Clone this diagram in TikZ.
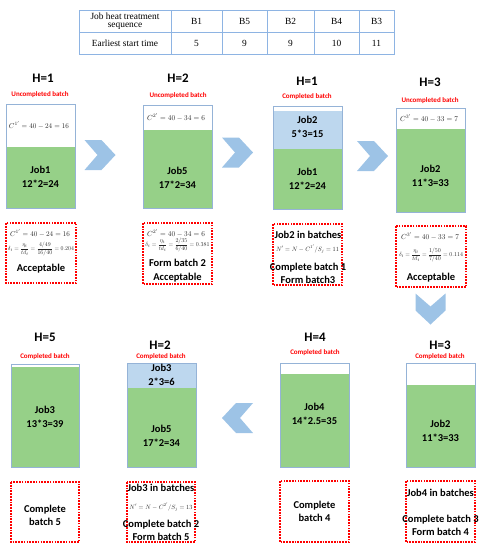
\documentclass[tikz,border=0pt]{standalone}
\usepackage{fontspec}
\usepackage{graphicx}
\setmainfont{Carlito}
\newfontfamily\tabfont{Liberation Serif}
\definecolor{jobgreen}{HTML}{96D088}
\definecolor{jobblue}{HTML}{BDD7EE}
\definecolor{boxline}{HTML}{95B3D7}
\definecolor{tabline}{HTML}{8EB4E3}
\definecolor{chevcol}{HTML}{9DC3E6}
\definecolor{fmcol}{HTML}{262626}
\newcommand\fmw[2]{\resizebox{#1pt}{!}{$\displaystyle #2$}}
\begin{document}
\begin{tikzpicture}[x=1pt,y=-1pt,
  bline/.style={draw=boxline,line width=0.9pt},
  tline/.style={draw=tabline,line width=0.8pt},
  redbox/.style={draw=red,line width=1.1pt,dash pattern=on 1.7pt off 1.1pt},
  hlab/.style={font=\fontsize{13}{15}\selectfont\bfseries},
  redlab/.style={font=\fontsize{7}{8}\selectfont\bfseries,text=red},
  jobtxt/.style={font=\fontsize{10.5}{14}\selectfont\bfseries,align=center,inner sep=0pt},
  notetxt/.style={font=\fontsize{10.5}{13}\selectfont\bfseries,align=center,inner sep=0pt},
  fm/.style={text=fmcol,inner sep=0pt},
  tabtxt/.style={font=\tabfont\fontsize{9.4}{10}\selectfont,align=center,inner sep=0pt},
  chevshape/.pic={\fill[chevcol] (-15.5,-15) -- (1.5,-15) -- (15.5,0) -- (1.5,15) -- (-15.5,15) -- (-2.5,0) -- cycle;}
]
\useasboundingbox (0,0) rectangle (489,550);

% ---------- table ----------
\draw[tline] (79,10) rectangle (394,54);
\draw[tline] (79,32) -- (394,32);
\foreach \x in {171,222,267,314,359} \draw[tline] (\x,10) -- (\x,54);
\node[tabtxt] (t0) at (125,21) {Job heat treatment\\[-1.5pt]sequence};
\node[tabtxt] (t1) at (196.5,21) {B1};
\node[tabtxt] (t2) at (244.5,21) {B5};
\node[tabtxt] (t3) at (290.5,21) {B2};
\node[tabtxt] (t4) at (336.5,21) {B4};
\node[tabtxt] (t5) at (376.5,21) {B3};
\node[tabtxt] (s0) at (125,43) {Earliest start time};
\node[tabtxt] (s1) at (196.5,43) {5};
\node[tabtxt] (s2) at (244.5,43) {9};
\node[tabtxt] (s3) at (290.5,43) {9};
\node[tabtxt] (s4) at (336.5,43) {10};
\node[tabtxt] (s5) at (376.5,43) {11};

% ---------- top row ----------
\node[hlab] (h1) at (43,78) {H=1};
\node[hlab] (h2) at (178,78) {H=2};
\node[hlab] (h3) at (307,81) {H=1};
\node[hlab] (h4) at (430,82) {H=3};
\node[redlab] (r1) at (40,95) {Uncompleted batch};
\node[redlab] (r2) at (178,96) {Uncompleted batch};
\node[redlab] (r3) at (307,97) {Completed batch};
\node[redlab] (r4) at (430,101) {Uncompleted batch};

% box 1
\fill[white] (6,104) rectangle (75,147);
\fill[jobgreen] (6,147) rectangle (75,208);
\draw[bline] (6,104) rectangle (75,208);
\node[fm] (f1) at (39,125) {\fmw{60}{C^{1'}=40-24=16}};
\node[jobtxt] (j1) at (40.5,177) {Job1\\12*2=24};
% box 2
\fill[white] (143,105) rectangle (212,130);
\fill[jobgreen] (143,130) rectangle (212,208);
\draw[bline] (143,105) rectangle (212,208);
\node[fm] (f2) at (176,117) {\fmw{58}{C^{2'}=40-34=6}};
\node[jobtxt] (j2) at (177.5,177.5) {Job5\\17*2=34};
% box 3
\fill[white] (273,106) rectangle (342,111);
\fill[jobblue] (273,111) rectangle (342,149);
\fill[jobgreen] (273,149) rectangle (342,209);
\draw[bline] (273,106) rectangle (342,209);
\node[jobtxt] (j3a) at (307.5,127) {Job2\\5*3=15};
\node[jobtxt] (j3b) at (307.5,179) {Job1\\12*2=24};
% box 4
\fill[white] (396,108) rectangle (465,129);
\fill[jobgreen] (396,129) rectangle (465,212);
\draw[bline] (396,108) rectangle (465,212);
\node[fm] (f4) at (429,118) {\fmw{58}{C^{3'}=40-33=7}};
\node[jobtxt] (j4) at (430.5,175.5) {Job2\\11*3=33};

% chevrons
\pic at (100,155) {chevshape};
\pic at (237.5,152.5) {chevshape};
\pic at (372.5,156) {chevshape};
\pic[rotate=-90] at (430.5,309) {chevshape};
\pic[rotate=180] at (237.5,418) {chevshape};

% dashed boxes, top row
\draw[redbox] (6,223) rectangle (76,283);
\node[fm] (d1a) at (40,233) {\fmw{60}{C^{1'}=40-24=16}};
\node[fm] (d1b) at (41,249) {\fmw{66}{\delta_t=\frac{\eta_t}{td_t}=\frac{4/49}{16/40}=0.204}};
\node[notetxt] (d1c) at (41,269) {Acceptable};

\draw[redbox] (143,223) rectangle (212,284);
\node[fm] (d2a) at (176,233) {\fmw{58}{C^{2'}=40-34=6}};
\node[fm] (d2b) at (177.5,245) {\fmw{64}{\delta_t=\frac{\eta_t}{td_t}=\frac{2/35}{6/40}=0.381}};
\node[notetxt] (d2c) at (177.5,270.5) {Form batch 2\\[1.5pt]Acceptable};

\draw[redbox] (273,224) rectangle (342,285);
\node[notetxt] (d3a) at (308,235) {Job2 in batches};
\node[fm] (d3b) at (307.5,249) {\fmw{63}{N'=N-C^{1'}/S_j=11}};
\node[notetxt] (d3c) at (308,273.5) {Complete batch 1\\Form batch3};

\draw[redbox] (396,226) rectangle (466,287);
\node[fm] (d4a) at (430,236) {\fmw{58}{C^{3'}=40-33=7}};
\node[fm] (d4b) at (431,255) {\fmw{64}{\delta_t=\frac{\eta_t}{td_t}=\frac{1/50}{7/40}=0.114}};
\node[notetxt] (d4c) at (431,278) {Acceptable};

% ---------- bottom row ----------
\node[hlab] (h5) at (45,337) {H=5};
\node[hlab] (h6) at (160,345) {H=2};
\node[hlab] (h7) at (315,337) {H=4};
\node[hlab] (h8) at (440,345) {H=3};
\node[redlab] (r5) at (45,357) {Completed batch};
\node[redlab] (r6) at (161,357) {Completed batch};
\node[redlab] (r7) at (315,353) {Completed batch};
\node[redlab] (r8) at (440,357) {Completed batch};

% box 5
\fill[white] (11,364) rectangle (79,367);
\fill[jobgreen] (11,367) rectangle (79,467);
\draw[bline] (11,364) rectangle (79,467);
\node[jobtxt] (j5) at (45,417) {Job3\\13*3=39};
% box 6
\fill[jobblue] (127,363) rectangle (196,388);
\fill[jobgreen] (127,388) rectangle (196,467);
\draw[bline] (127,363) rectangle (196,467);
\node[jobtxt] (j6a) at (161.5,374.5) {Job3\\2*3=6};
\node[jobtxt] (j6b) at (161.5,436) {Job5\\17*2=34};
% box 7
\fill[white] (280,363) rectangle (349,374);
\fill[jobgreen] (280,374) rectangle (349,467);
\draw[bline] (280,363) rectangle (349,467);
\node[jobtxt] (j7) at (314.5,414) {Job4\\14*2.5=35};
% box 8
\fill[white] (406,363) rectangle (475,385);
\fill[jobgreen] (406,385) rectangle (475,467);
\draw[bline] (406,363) rectangle (475,467);
\node[jobtxt] (j8) at (440.5,430.5) {Job2\\11*3=33};

% dashed boxes, bottom row
\draw[redbox] (11,482) rectangle (79,542);
\node[notetxt] (d5) at (45,515.5) {Complete\\batch 5};

\draw[redbox] (127,482) rectangle (195,542);
\node[notetxt] (d6a) at (161,488) {Job3 in batches};
\node[fm] (d6b) at (161,507) {\fmw{63}{N'=N-C^{2'}/S_j=13}};
\node[notetxt] (d6c) at (161,530) {Complete batch 2\\Form batch 5};

\draw[redbox] (280,481) rectangle (349,542);
\node[notetxt] (d7) at (314.5,511.5) {Complete\\batch 4};

\draw[redbox] (406,481) rectangle (475,542);
\node[notetxt] (d8a) at (440.5,493) {Job4 in batches};
\node[notetxt] (d8c) at (440.5,525.5) {Complete batch 3\\Form batch 4};
\end{tikzpicture}
\end{document}
